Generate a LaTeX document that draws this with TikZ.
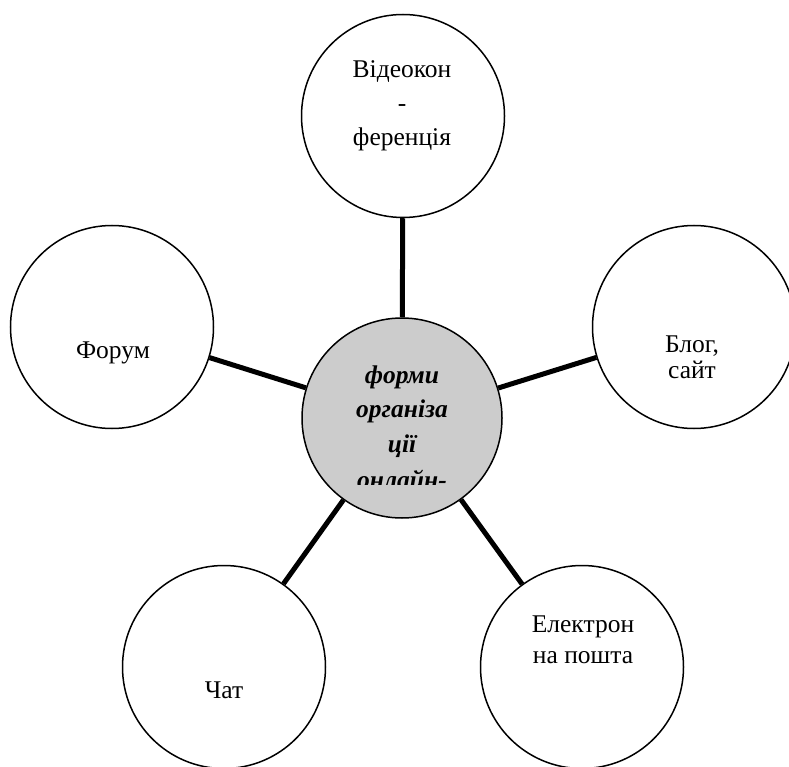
\documentclass[tikz,border=0pt]{standalone}
\usepackage{fontspec}
\setmainfont{Liberation Serif}
\begin{document}
\begin{tikzpicture}[x=1pt,y=-1pt,
  bub/.style={circle, draw, line width=1.5pt, minimum size=203pt, inner sep=0pt, fill=white},
  hub/.style={bub, fill=black!20, minimum size=200pt},
  link/.style={line width=5pt},
  lbl/.style={anchor=base, inner sep=0pt, font=\fontsize{25.5}{25.5}\selectfont},
  hlbl/.style={lbl, font=\fontsize{25.5}{25.5}\selectfont\bfseries\itshape},
]
\useasboundingbox (0,0) rectangle (789,767);
\clip (0,0) rectangle (789,767);
% circles
\node[hub] (hub) at (402,418) {};
\node[bub] (video) at (403,116) {};
\node[bub] (forum) at (112,327) {};
\node[bub] (blog)  at (694,327) {};
\node[bub] (chat)  at (224,667) {};
\node[bub] (mail)  at (582,667) {};
% connectors
\draw[link] (hub) -- (video);
\draw[link] (hub) -- (forum);
\draw[link] (hub) -- (blog);
\draw[link] (hub) -- (chat);
\draw[link] (hub) -- (mail);
% labels
\node[lbl] (v1) at (402,78) {Відеокон};
\node[lbl] (v2) at (402,112) {-};
\node[lbl] (v3) at (402,146) {ференція};
\node[lbl] (f1) at (113,358) {Форум};
\node[lbl] (b1) at (692,352) {Блог,};
\node[lbl] (b2) at (692,378) {сайт};
\node[lbl] (c1) at (224,698) {Чат};
\node[lbl] (m1) at (583,632) {Електрон};
\node[lbl] (m2) at (583,663) {на пошта};
\begin{scope}
  \clip (300,310) rectangle (505,484);
  \node[hlbl] (h1) at (402,383) {форми};
  \node[hlbl] (h2) at (402,417.5) {організа};
  \node[hlbl] (h3) at (402,452) {ції};
  \node[hlbl] (h4) at (402,488) {онлайн-};
\end{scope}
\end{tikzpicture}
\end{document}
